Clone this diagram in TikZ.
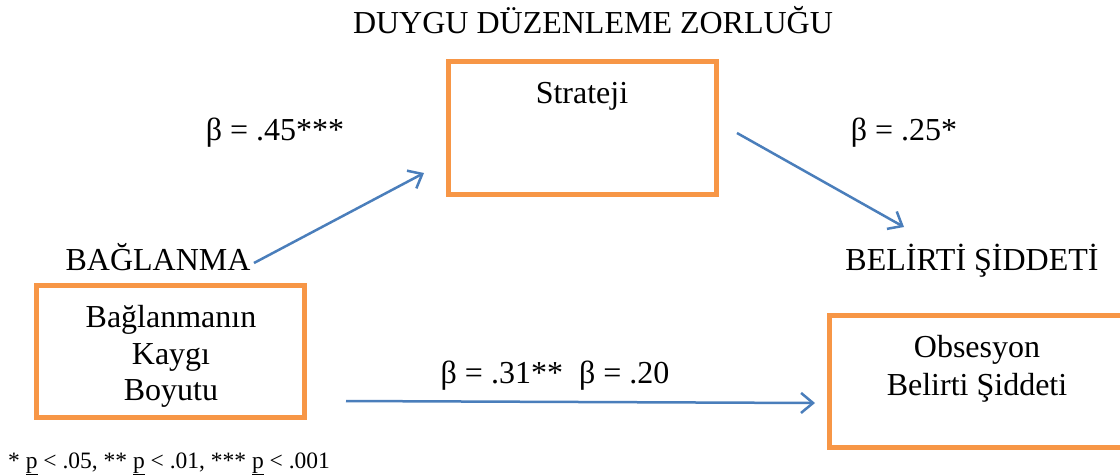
\documentclass[tikz,border=0pt]{standalone}
\usepackage{fontspec}
\setmainfont{Liberation Serif}
\usetikzlibrary{arrows.meta}
\definecolor{boxorange}{HTML}{F79646}
\definecolor{arrowblue}{HTML}{4A7EBB}
\begin{document}
\begin{tikzpicture}[x=1pt,y=-1pt,
  box/.style={draw=boxorange,line width=5pt,inner sep=0pt,rectangle},
  lbl/.style={anchor=base,inner sep=0pt,font=\fontsize{32}{37}\selectfont},
  conn/.style={draw=arrowblue,line width=2.5pt,-{Straight Barb[length=12pt,width=20pt]}}]
\useasboundingbox (0,0) rectangle (1120,475);
\clip (0,0) rectangle (1120,475);
\fill[white] (0,0) rectangle (1120,475);
% boxes
\node[box,minimum width=268pt,minimum height=133pt] (strat) at (582.5,128) {};
\node[box,minimum width=268pt,minimum height=132pt] (attach) at (170.5,351.5) {};
\node[box,minimum width=301pt,minimum height=132pt] (obs) at (980,381.5) {};
% texts
\node[lbl] (title) at (593,33) {DUYGU DÜZENLEME ZORLUĞU};
\node[lbl] (strtxt) at (582,103) {Strateji};
\node[lbl] (b1) at (275,140) {β = .45***};
\node[lbl] (b2) at (904,140) {β = .25*};
\node[lbl] (bag) at (158,270) {BAĞLANMA};
\node[lbl] (bel) at (972,270) {BELİRTİ ŞİDDETİ};
\node[lbl] (a1) at (171,327) {Bağlanmanın};
\node[lbl] (a2) at (171,364) {Kaygı};
\node[lbl] (a3) at (171,400) {Boyutu};
\node[lbl] (o1) at (977,357) {Obsesyon};
\node[lbl] (o2) at (977,395) {Belirti Şiddeti};
\node[lbl] (b3) at (555,383) {β = .31**\ \ β = .20};
\node[anchor=base west,inner sep=0pt,font=\fontsize{23.5}{27}\selectfont] (note) at (8,468)
  {* \underline{p} < .05, ** \underline{p} < .01, *** \underline{p} < .001};
% connector endpoints
\coordinate (s1) at (254,263);
\coordinate (e1) at (424,173);
\coordinate (s2) at (737,133);
\coordinate (e2) at (904,227);
\coordinate (s3) at (346,401);
\coordinate (e3) at (815,403);
\draw[conn] (s1) -- (e1);
\draw[conn] (s2) -- (e2);
\draw[conn] (s3) -- (e3);
\end{tikzpicture}
\end{document}
